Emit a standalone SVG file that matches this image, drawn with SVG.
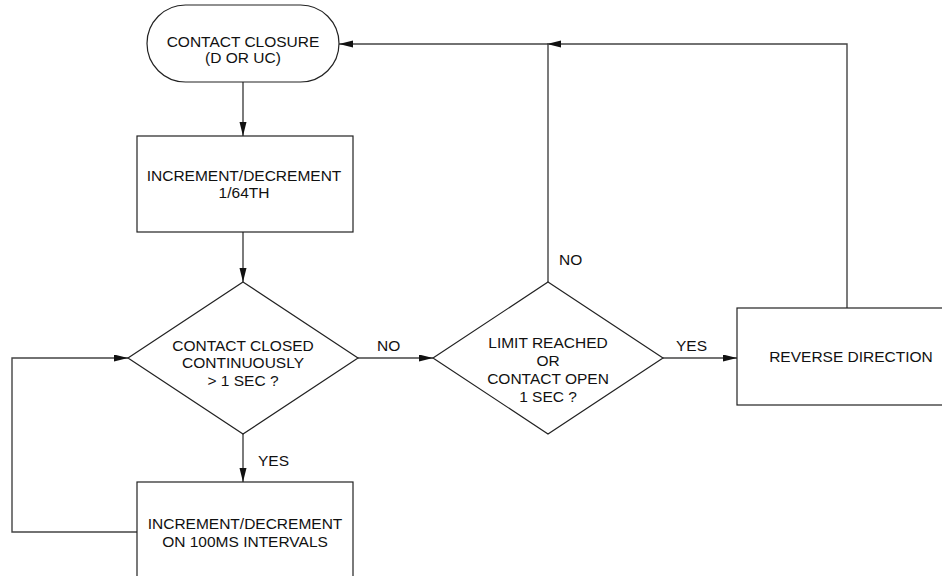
<svg xmlns="http://www.w3.org/2000/svg" width="942" height="576" viewBox="0 0 942 576">
<defs>
<style>
.shape{fill:#fff;stroke:#222;stroke-width:1.2}
.conn{fill:none;stroke:#444;stroke-width:1.4}
text{font-family:"Liberation Sans",Arial,sans-serif;font-size:15.5px;fill:#111;text-anchor:middle}
.lbl{text-anchor:start}
</style>
<marker id="ah" markerUnits="userSpaceOnUse" markerWidth="15" markerHeight="8" refX="14" refY="3.5" orient="auto">
<path d="M0,0 L14,3.5 L0,7 z" fill="#111"/>
</marker>
</defs>
<rect width="942" height="576" fill="#fff"/>
<g id="connectors">
<path class="conn" d="M243,82 V136" marker-end="url(#ah)"/>
<path class="conn" d="M243,232 V282" marker-end="url(#ah)"/>
<path class="conn" d="M358,358 H433" marker-end="url(#ah)"/>
<path class="conn" d="M663,358 H737" marker-end="url(#ah)"/>
<path class="conn" d="M847,308 V44 H547" marker-end="url(#ah)"/>
<path class="conn" d="M548,282 V44 H339" marker-end="url(#ah)"/>
<path class="conn" d="M243,434 V482" marker-end="url(#ah)"/>
<path class="conn" d="M137,532 H12 V358 H128" marker-end="url(#ah)"/>
<text class="lbl" x="377" y="351">NO</text>
<text class="lbl" x="676" y="351">YES</text>
<text class="lbl" x="559" y="265">NO</text>
<text class="lbl" x="258" y="466">YES</text>
</g>
<g id="start">
<rect class="shape" x="147" y="5" width="192" height="77" rx="38.5" ry="38.5"/>
<text x="243" y="47">CONTACT CLOSURE</text>
<text x="243" y="63">(D OR UC)</text>
</g>
<g id="step1">
<rect class="shape" x="137" y="136" width="216" height="96"/>
<text x="244" y="181">INCREMENT/DECREMENT</text>
<text x="244" y="198">1/64TH</text>
</g>
<g id="decision1">
<polygon class="shape" points="243,282 358,358 243,434 128,358"/>
<text x="243" y="351">CONTACT CLOSED</text>
<text x="243" y="368">CONTINUOUSLY</text>
<text x="243" y="386">&gt; 1 SEC ?</text>
</g>
<g id="decision2">
<polygon class="shape" points="548,282 663,358 548,434 433,358"/>
<text x="548" y="348">LIMIT REACHED</text>
<text x="548" y="366">OR</text>
<text x="548" y="384">CONTACT OPEN</text>
<text x="548" y="402">1 SEC ?</text>
</g>
<g id="reverse">
<rect class="shape" x="737" y="308" width="230" height="97"/>
<text x="851" y="362">REVERSE DIRECTION</text>
</g>
<g id="step2">
<rect class="shape" x="137" y="482" width="216" height="100"/>
<text x="245" y="529">INCREMENT/DECREMENT</text>
<text x="245" y="547">ON 100MS INTERVALS</text>
</g>
</svg>
